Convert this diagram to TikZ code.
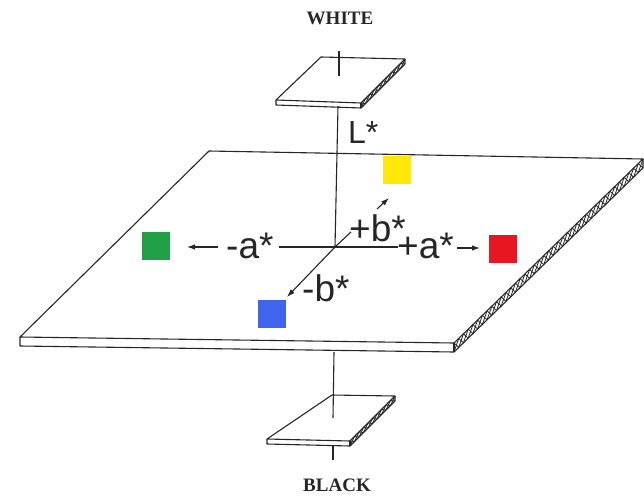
\documentclass[tikz,border=0pt]{standalone}
\usepackage{fontspec}
\setmainfont{Liberation Serif}
\setsansfont{Liberation Sans}
\usetikzlibrary{arrows.meta,calc}
\tikzset{
  edge/.style={line width=1.1pt, line join=round, black!85},
  hatch/.style={line width=0.8pt, black!85},
  axis/.style={line width=1.1pt, black!85},
  arr/.style={axis, -{Latex[length=8pt,width=5.5pt]}},
  lab/.style={font=\fontsize{37}{37}\selectfont\sffamily, inner sep=0pt, anchor=base west, text=black!85},
  captxt/.style={font=\fontsize{19}{19}\selectfont\bfseries\rmfamily, inner sep=0pt, text=black!85},
  sq/.style={minimum size=28pt, inner sep=0pt, draw=none}
}
\newcommand{\hatchband}[4]{%
  \foreach \i in {1,...,#4}{%
    \pgfmathsetmacro\ta{(\i-1)/#4}%
    \pgfmathsetmacro\tb{\i/#4}%
    \draw[hatch] ($(#1)!\ta!(#2)$) -- ($(#1)!\tb!(#2)+(0,#3)$);
    \draw[hatch] ($(#1)!\ta!(#2)+(0,#3)$) -- ($(#1)!\tb!(#2)$);
  }}
\newcommand{\slab}[6]{% TL TR BR BL thickness hatches
  \fill[white] (#1) -- (#2) -- ($(#2)+(0,#5)$) -- ($(#3)+(0,#5)$) -- ($(#4)+(0,#5)$) -- (#4) -- cycle;
  \hatchband{#2}{#3}{#5}{#6}
  \draw[edge] (#1) -- (#2) -- (#3) -- (#4) -- cycle;
  \draw[edge] (#2) -- ($(#2)+(0,#5)$) -- ($(#3)+(0,#5)$) -- ($(#4)+(0,#5)$) -- (#4);
  \draw[edge] (#3) -- ($(#3)+(0,#5)$);
}
\begin{document}
\begin{tikzpicture}[x=1pt,y=-1pt]
\useasboundingbox[fill=white] (0,0) rectangle (644,495);

% captions
\node[captxt] (white) at (340,18) {WHITE};
\node[captxt] (black) at (337,485) {BLACK};

% main plate
\coordinate (A) at (209,151);
\coordinate (B) at (643,159);
\coordinate (C) at (454,343);
\coordinate (D) at (20,337);
\slab{A}{B}{C}{D}{9}{40}

% top plate
\coordinate (TA) at (321,57);
\coordinate (TB) at (405,59);
\coordinate (TC) at (361,103);
\coordinate (TD) at (276,100);
\slab{TA}{TB}{TC}{TD}{5}{10}

% bottom plate
\coordinate (BA) at (332,395);
\coordinate (BB) at (395,396);
\coordinate (BC) at (350,441);
\coordinate (BD) at (267,439);
\slab{BA}{BB}{BC}{BD}{5}{10}

% L axis
\coordinate (O) at (335,247);
\coordinate (t1) at (339,51);
\coordinate (t2) at (339,76);
\coordinate (t3) at (338,106);
\draw[axis] (t1) -- (t2);
\draw[axis] (t3) -- (O);
\coordinate (l1) at (334,352);
\coordinate (l2) at (333,418);
\coordinate (l3) at (333,446);
\coordinate (l4) at (333,460);
\draw[axis] (l1) -- (l2);
\draw[axis] (l3) -- (l4);

% colour squares
\node[sq, fill={rgb,255:red,34;green,160;blue,72}] (green) at (156,246) {};
\node[sq, fill={rgb,255:red,232;green,22;blue,32}] (red) at (503,249) {};
\node[sq, fill={rgb,255:red,255;green,232;blue,10}] (yellow) at (397,170) {};
\node[sq, fill={rgb,255:red,64;green,100;blue,238}] (blue) at (272,314) {};

% labels
\node[lab, font=\fontsize{32}{32}\selectfont\sffamily] (Ls) at (348,143) {L*};
\node[lab] (am) at (226,258) {-a*};
\node[lab] (ap) at (397,258) {+a*};
\node[lab] (bp) at (349,241) {+b*};
\node[lab] (bm) at (302,301) {-b*};

% a axis
\coordinate (a1) at (279,247);
\coordinate (a2) at (218,247);
\coordinate (a3) at (187,247);
\draw[axis] (a1) -- (O) -- (398,247);
\draw[arr] (a2) -- (a3);
\coordinate (a4) at (457,248);
\coordinate (a5) at (480,248);
\draw[arr] (a4) -- (a5);

% b axis
\coordinate (b1) at (351,232);
\coordinate (b2) at (377,209);
\coordinate (b3) at (389,198);
\coordinate (b4) at (287,297);
\draw[axis] (O) -- (b1);
\draw[arr] (b2) -- (b3);
\draw[arr] (O) -- (b4);
\end{tikzpicture}
\end{document}
